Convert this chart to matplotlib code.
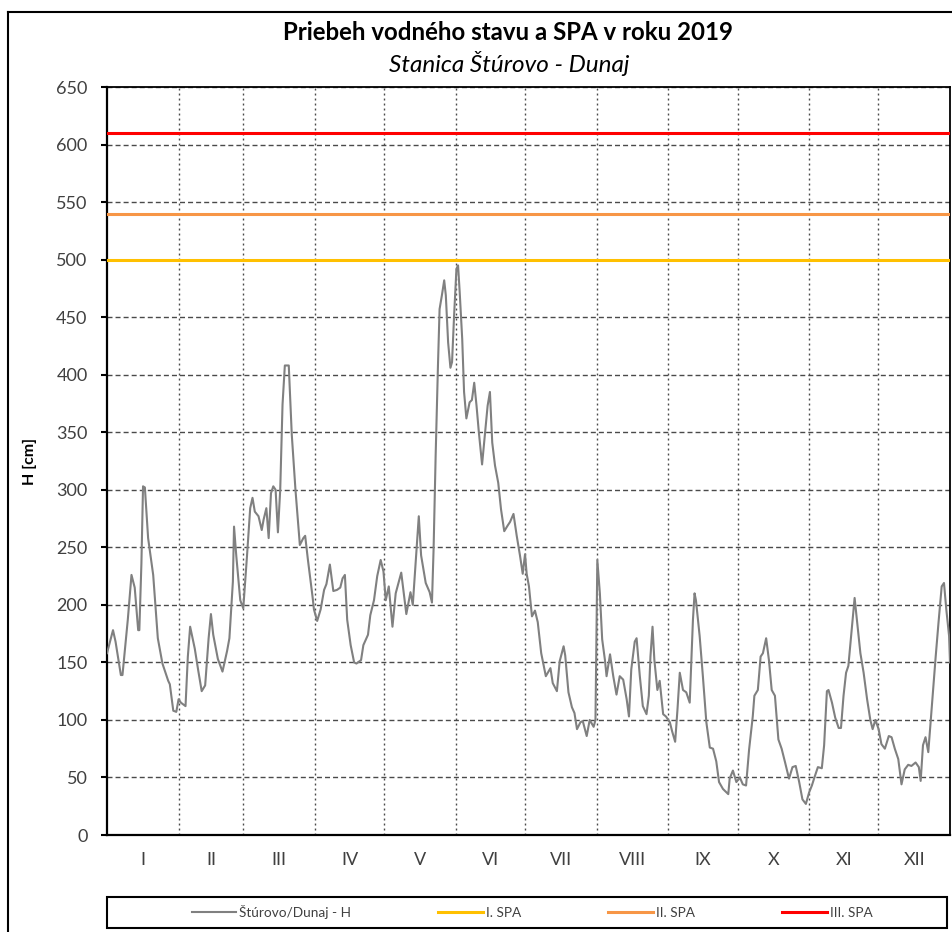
import matplotlib
matplotlib.use("Agg")
import matplotlib.pyplot as plt
from matplotlib.lines import Line2D
from matplotlib.patches import Rectangle

plt.rcParams['font.family'] = ['Lato', 'DejaVu Sans']

# ---------------- data ----------------
days = [0, 2.6, 3.7, 6, 6.7, 9, 10.6, 12, 13.5, 14, 14.9, 15.6, 16.4, 17.8, 20, 22, 24, 26.5, 27.2,
        28.7, 30, 31, 32, 34, 35, 36, 38, 39.5, 41, 42.5, 44, 45, 46, 48, 50, 52, 53, 54.5, 55, 56,
        57.7, 59, 60.6, 62, 63, 64, 65.6, 67, 67.8, 69, 70, 71, 72, 73, 74, 75, 76, 77, 78.7, 80,
        81.6, 83.5, 85, 85.8, 87, 89, 89.6, 91, 92.5, 94, 95, 96.5, 97.5, 98, 99.6, 101, 102, 103,
        104, 105.5, 107, 108, 110, 111, 113, 114, 115.6, 117, 118.5, 119.7, 120.7, 122, 123.6, 125,
        127.4, 129.6, 131.4, 132.4, 134, 135, 136, 138, 139.7, 140.7, 141.4, 142.3, 143.3, 144, 145,
        146, 146.7, 147.7, 148.7, 149.4, 150.3, 151.3, 152, 152.7, 153.8, 154.6, 155.6, 157, 158,
        159, 160, 161, 162.4, 163.6, 164.8, 165.8, 166.8, 168, 169.4, 170.6, 172, 173.5, 174.5, 176,
        177.4, 178.8, 180, 181, 181.7, 182.7, 184, 185.3, 186.5, 188, 190, 192, 193, 194.8, 196,
        197.7, 198.4, 199.8, 201.3, 202.4, 203.5, 205, 206, 207.7, 209, 210.7, 211.5, 212.3, 213.4,
        214.4, 215.6, 216.3, 217.8, 219.2, 220.6, 222, 223.5, 225, 226, 227, 228.5, 229.3, 230.7,
        232, 233.6, 234.6, 235.3, 236.2, 237, 238.3, 239.3, 240.8, 242, 243.7, 244.7, 246, 247, 248,
        249.4, 250.8, 252.3, 253, 253.7, 254.4, 255, 256.6, 258, 259.5, 261, 262.4, 263.8, 265,
        266.7, 269, 269.6, 271, 272.5, 274, 275.3, 276.7, 278, 279.6, 280.3, 281.8, 283, 284, 285.4,
        286.6, 287.8, 289.2, 290.7, 292.1, 293.6, 295.3, 296.8, 298.2, 299.7, 301.1, 302.6, 304,
        305.2, 306.3, 307.8, 309.5, 310.5, 311.7, 312.4, 313.9, 315.3, 316.8, 317.8, 318.9, 320,
        321, 322.3, 323.7, 324.7, 326.2, 327.6, 329.1, 330.5, 331.5, 332.7, 334.1, 335.3, 336.8,
        338.5, 339.7, 341.1, 342.6, 344, 345.4, 346.9, 348.3, 350.1, 351.5, 352.3, 353.3, 354.4,
        355.6, 356.6, 357.6, 358.8, 360, 361.4, 362.4, 363.4, 364.6, 365]
level = [158, 178, 168, 139, 139, 187, 226, 215, 178, 178, 236, 303, 302, 258, 226, 171, 149, 134, 131,
         108, 107, 118, 115, 112, 155, 181, 162, 143, 125, 130, 171, 192, 174, 153, 142, 160, 171, 220, 268, 242,
         204, 197, 242, 284, 293, 281, 277, 265, 274, 284, 258, 297, 303, 300, 263, 300, 374, 408, 408, 348,
         300, 252, 258, 260, 239, 207, 196, 186, 196, 213, 218, 235, 220, 212, 213, 215, 223, 226,
         187, 165, 150, 149, 152, 165, 174, 191, 204, 225, 239, 229, 204, 216, 181, 210,
         228, 192, 211, 200, 248, 277, 243, 219, 211, 202, 248, 330, 408, 457, 469,
         482, 469, 428, 406, 411, 452, 492, 495, 472, 431, 385, 362, 376, 378,
         393, 373, 350, 322, 347, 373, 385, 341, 321, 306, 283, 264, 269, 272, 279,
         260, 243, 227, 244, 227, 216, 190, 195, 185, 158, 138, 145, 132, 125, 151,
         164, 156, 124, 111, 106, 92, 98, 99, 86, 100, 94, 100, 239, 210,
         170, 152, 138, 157, 138, 122, 138, 135, 118, 103, 144, 168, 171, 138,
         112, 105, 121, 155, 181, 152, 126, 134, 105, 103, 98, 90, 81, 109, 141,
         126, 124, 115, 152, 187, 210, 204, 173, 138, 98, 76, 75, 64, 46,
         40, 35.5, 49, 56, 46, 50, 44, 43, 74, 103, 121, 126, 155, 158, 171,
         152, 126, 121, 83, 75, 63, 49, 59, 60, 46, 31, 27, 37,
         43, 50, 59, 58, 78, 125, 126, 115, 102, 93, 93, 121, 141,
         147, 175, 206, 187, 158, 141, 118, 100, 92, 100, 92, 79, 75,
         86, 85, 75, 66, 44, 57, 61, 60, 63, 59, 47, 78, 85,
         72, 98, 124, 155, 184, 216, 219, 196, 173, 150]

spa_levels = [500, 540, 610]
spa_labels = ['I. SPA', 'II. SPA', 'III. SPA']
spa_colors = ['#FFC000', '#F79646', '#FF0000']
series_label = 'Štúrovo/Dunaj - H'

month_bounds = [0, 31, 59, 90, 120, 151, 181, 212, 243, 273, 304, 334, 365]
month_labels = ['I', 'II', 'III', 'IV', 'V', 'VI', 'VII', 'VIII', 'IX', 'X', 'XI', 'XII']
yticks = list(range(0, 651, 50))

title = 'Priebeh vodného stavu a SPA v roku 2019'
subtitle = 'Stanica Štúrovo - Dunaj'
ylabel = 'H [cm]'

# ---------------- figure ----------------
W, H = 953, 932
fig = plt.figure(figsize=(W / 100, H / 100), dpi=100)

def fx(px):
    return px / W

def fy(py):
    return 1 - py / H

ax = fig.add_axes([fx(107), fy(835), fx(950) - fx(107), fy(87) - fy(835)])

ax.plot(days, level, color='#808080', lw=1.5, zorder=4, label=series_label)
for lv, lab, col in zip(spa_levels, spa_labels, spa_colors):
    ax.axhline(lv, color=col, lw=2.2, zorder=3, label=lab)

ax.set_xlim(month_bounds[0], month_bounds[-1])
ax.set_ylim(yticks[0], yticks[-1])
ax.set_yticks(yticks)
ax.set_yticklabels([str(v) for v in yticks])
mids = [(a + b) / 2 for a, b in zip(month_bounds[:-1], month_bounds[1:])]
ax.set_xticks(mids)
ax.set_xticklabels(month_labels)
ax.set_xticks(month_bounds[1:-1], minor=True)

ax.tick_params(axis='y', which='major', direction='out', length=4, width=1.5,
               color='black', pad=10, labelsize=13, labelcolor='#404040')
ax.tick_params(axis='x', which='major', length=0, pad=12, labelsize=13, labelcolor='#404040')
ax.tick_params(axis='x', which='minor', length=0)

ax.yaxis.grid(True, which='major', color='#4a4a4a', lw=1.0, linestyle=(0, (3.6, 2.2)))
ax.xaxis.grid(True, which='minor', color='#4a4a4a', lw=1.0, linestyle=(0, (1.4, 2.2)))
ax.xaxis.grid(False, which='major')
ax.set_axisbelow(True)
for s in ax.spines.values():
    s.set_color('black')
    s.set_linewidth(1.3)
ax.spines['left'].set_linewidth(1.6)
ax.spines['bottom'].set_linewidth(1.6)

# titles
fig.text(fx(508), fy(33), title, ha='center', va='center', fontsize=17.3,
         fontweight='bold', color='black')
fig.text(fx(509), fy(64), subtitle, ha='center', va='center', fontsize=17.5,
         fontstyle='italic', color='black')
fig.text(fx(30), fy(461), ylabel, ha='center', va='center', rotation=90,
         fontsize=11.5, fontweight='bold', color='black')

# outer frame (top and left edges)
fig.add_artist(Line2D([fx(8), 1.0], [fy(12), fy(12)], color='black', lw=1.5))
fig.add_artist(Line2D([fx(8), fx(8)], [fy(12), 0.0], color='black', lw=1.5))

# legend box
fig.add_artist(Rectangle((fx(107), fy(928)), fx(947) - fx(107), fy(897) - fy(928),
                         fill=False, edgecolor='black', lw=1.5))
handles, labels = ax.get_legend_handles_labels()
leg = fig.legend(handles, labels, loc='center', ncol=4,
                 bbox_to_anchor=(fx(532), fy(912)), frameon=False, fontsize=9.8,
                 handlelength=3.3, handletextpad=0.2, columnspacing=6.4,
                 labelcolor='#404040')

fig.savefig('out.png', dpi=100)
